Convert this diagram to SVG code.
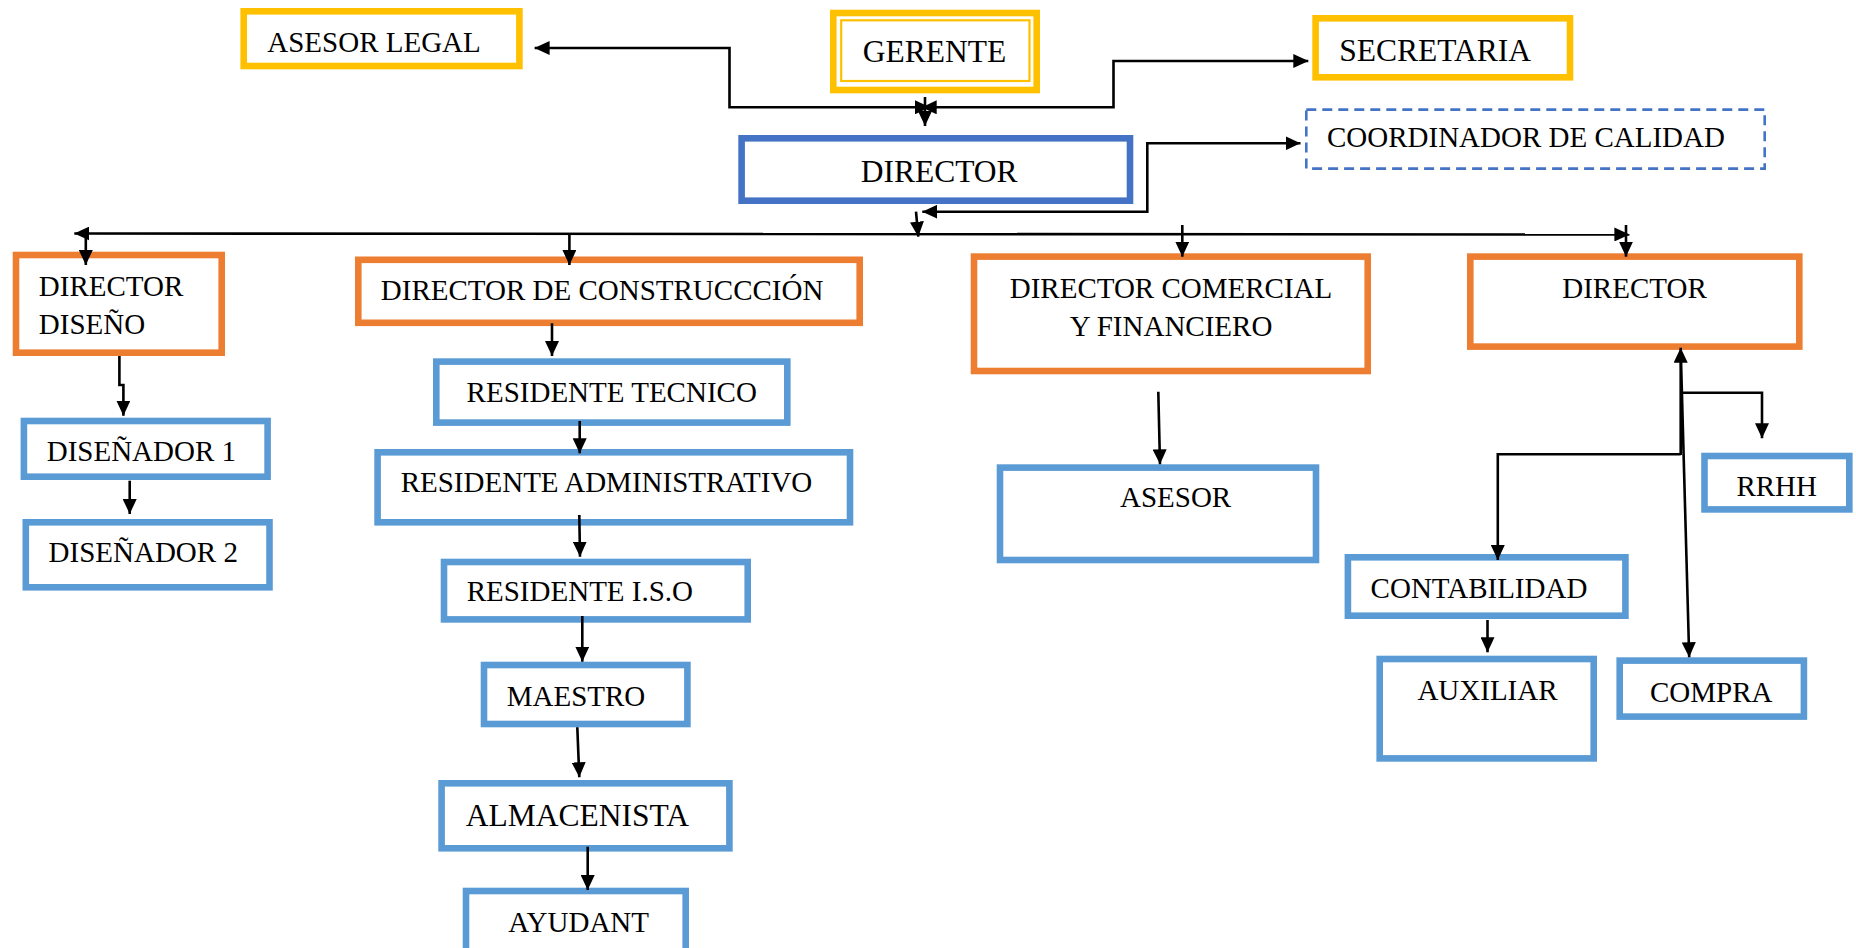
<svg xmlns="http://www.w3.org/2000/svg" width="1856" height="948" viewBox="0 0 1856 948">
<style>
  text { font-family: "Liberation Serif", "Times New Roman", serif; font-size: 29px; fill: #000; }
  .big { font-size: 31.5px; }
  .box { fill: #fff; stroke-width: 6.6; }
  .yel { stroke: #FFC000; }
  .org { stroke: #ED7D31; }
  .dblue { stroke: #4472C4; }
  .lblue { stroke: #5B9BD5; }
  .dash { fill: #fff; stroke: #4472C4; stroke-width: 2.6; stroke-dasharray: 10 6; }
  .c { fill: none; stroke: #000; stroke-width: 2.6; }
  .ae { marker-end: url(#arr); }
  .as { marker-start: url(#arr); }
</style>
<defs>
  <marker id="arr" viewBox="0 0 15 14" refX="15" refY="7" markerWidth="15" markerHeight="14" markerUnits="userSpaceOnUse" orient="auto-start-reverse">
    <path d="M0,0 L15,7 L0,14 z" fill="#000"/>
  </marker>
</defs>
<rect width="1856" height="948" fill="#fff"/>

<g id="asesor-legal">
  <rect class="box yel" x="243.7" y="11.3" width="275.7" height="54.7"/>
  <text x="267.3" y="52">ASESOR LEGAL</text>
</g>
<g id="gerente">
  <rect class="box yel" x="833.3" y="13" width="203.4" height="77" stroke-width="8"/>
  <rect x="841.2" y="20.3" width="188.3" height="60.7" fill="none" stroke="#FFC000" stroke-width="2.2"/>
  <text class="big" x="862.7" y="62.3">GERENTE</text>
</g>
<g id="secretaria">
  <rect class="box yel" x="1315.6" y="18.3" width="254.4" height="59"/>
  <text class="big" x="1339.3" y="61">SECRETARIA</text>
</g>
<g id="coordinador">
  <rect class="dash" x="1306.3" y="109.6" width="458.4" height="59"/>
  <text x="1327" y="146.7">COORDINADOR DE CALIDAD</text>
</g>
<g id="director">
  <rect class="box dblue" x="741.6" y="138.3" width="388.4" height="62.4"/>
  <text class="big" x="860.7" y="181.7">DIRECTOR</text>
</g>
<g id="director-diseno">
  <rect class="box org" x="16" y="255" width="205.7" height="97.7"/>
  <text x="38.8" y="296">DIRECTOR</text>
  <text x="38.8" y="334">DISEÑO</text>
</g>
<g id="director-construccion">
  <rect class="box org" x="358.3" y="259.8" width="501.4" height="63"/>
  <text x="380.8" y="300">DIRECTOR DE CONSTRUCCCIÓN</text>
</g>
<g id="director-comercial">
  <rect class="box org" x="974" y="256.6" width="393.7" height="114.4"/>
  <text x="1171" y="298.3" text-anchor="middle">DIRECTOR COMERCIAL</text>
  <text x="1171" y="335.7" text-anchor="middle">Y FINANCIERO</text>
</g>
<g id="director-2">
  <rect class="box org" x="1470.3" y="256.6" width="329" height="90"/>
  <text x="1634.5" y="298.3" text-anchor="middle">DIRECTOR</text>
</g>
<g id="disenador-1">
  <rect class="box lblue" x="23.9" y="421" width="243.7" height="55.7"/>
  <text x="46.7" y="460.7">DISEÑADOR 1</text>
</g>
<g id="disenador-2">
  <rect class="box lblue" x="25.8" y="522.3" width="243.7" height="65"/>
  <text x="48.6" y="562.3">DISEÑADOR 2</text>
</g>
<g id="residente-tecnico">
  <rect class="box lblue" x="436.3" y="361.6" width="351" height="61"/>
  <text x="466.6" y="401.7">RESIDENTE TECNICO</text>
</g>
<g id="residente-administrativo">
  <rect class="box lblue" x="377.6" y="452.3" width="472.4" height="70"/>
  <text x="400.7" y="492.3">RESIDENTE ADMINISTRATIVO</text>
</g>
<g id="residente-iso">
  <rect class="box lblue" x="444" y="562" width="303.7" height="57.4"/>
  <text x="466.7" y="600.7">RESIDENTE I.S.O</text>
</g>
<g id="maestro">
  <rect class="box lblue" x="484" y="665" width="203.4" height="59"/>
  <text x="506.7" y="705.7">MAESTRO</text>
</g>
<g id="almacenista">
  <rect class="box lblue" x="441.6" y="783.3" width="287.8" height="65"/>
  <text class="big" x="465.7" y="825.7">ALMACENISTA</text>
</g>
<g id="ayudant">
  <rect class="box lblue" x="466" y="891" width="219.7" height="80"/>
  <text x="508.3" y="931.7">AYUDANT</text>
</g>
<g id="asesor">
  <rect class="box lblue" x="1000" y="467.6" width="316" height="92.4"/>
  <text x="1120" y="507.3">ASESOR</text>
</g>
<g id="rrhh">
  <rect class="box lblue" x="1704.5" y="456" width="144.8" height="53.4"/>
  <text x="1736.4" y="496">RRHH</text>
</g>
<g id="contabilidad">
  <rect class="box lblue" x="1347.9" y="557.3" width="277.5" height="58.4"/>
  <text x="1370.6" y="598.3">CONTABILIDAD</text>
</g>
<g id="auxiliar">
  <rect class="box lblue" x="1379.7" y="659" width="214" height="99.4"/>
  <text x="1417.4" y="700">AUXILIAR</text>
</g>
<g id="compra">
  <rect class="box lblue" x="1619.7" y="660.6" width="184.2" height="56"/>
  <text x="1650" y="701.7">COMPRA</text>
</g>

<g id="connectors">
  <path class="c ae as" d="M930,107.3 L729.5,107.3 L729.5,48 L534.6,48"/>
  <path class="c ae as" d="M921.7,107.3 L1113.5,107.3 L1113.5,61 L1308.3,61"/>
  <path class="c ae" d="M925,97 L925,126"/>
  <path class="c ae as" d="M922.3,211.7 L1147.3,211.7 L1147.3,143.3 L1300.5,143.3"/>
  <path class="c ae" d="M916,211.7 L918.3,236.7"/>
  <path class="c ae as" d="M74.3,233.5 L1629.4,234.5"/>
  <path class="c ae" d="M85.8,233.5 L85.8,265"/>
  <path class="c ae" d="M569.4,234 L569.4,265"/>
  <path class="c ae" d="M1182.3,225 L1182.3,256.7"/>
  <path class="c ae" d="M1626,225 L1626,256.7"/>
  <path class="c ae" d="M119.4,356 L119.4,385 L123.4,385 L123.4,415.7"/>
  <path class="c ae" d="M129.7,480.7 L129.7,514"/>
  <path class="c ae" d="M552,323.3 L552,356"/>
  <path class="c ae" d="M579.7,421 L579.7,453.3"/>
  <path class="c ae" d="M579.3,515 L580,556.7"/>
  <path class="c ae" d="M582.3,616 L582.3,661.7"/>
  <path class="c ae" d="M577.3,727.3 L579.3,777.3"/>
  <path class="c ae" d="M587.7,846.7 L587.7,890"/>
  <path class="c ae" d="M1158.3,391.7 L1160,464.3"/>
  <path class="c ae" d="M1680.7,455 L1680.7,347.7"/>
  <path class="c ae" d="M1681,360 L1689.2,657.3"/>
  <path class="c ae" d="M1680.7,392.7 L1762,392.7 L1762,438.3"/>
  <path class="c ae" d="M1680.7,454.3 L1497.8,454.3 L1497.8,560"/>
  <path class="c ae" d="M1487.5,620 L1487.5,652.3"/>
</g>
</svg>
